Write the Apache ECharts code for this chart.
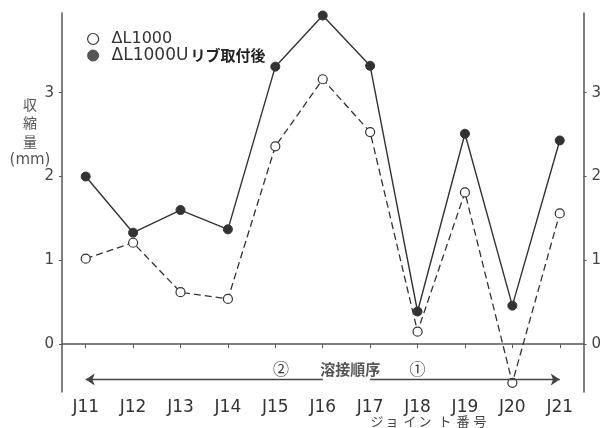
<!DOCTYPE html>
<html>
<head>
<meta charset="utf-8">
<script src="https://cdn.jsdelivr.net/npm/echarts@6/dist/echarts.min.js"></script>
<style>
  html, body { margin: 0; padding: 0; background: #fff; }
  #chart { width: 604px; height: 428px; }
</style>
</head>
<body>
<div id="chart"></div>
<script>
// Joint numbers along the girder
const categories = ['J11', 'J12', 'J13', 'J14', 'J15', 'J16', 'J17', 'J18', 'J19', 'J20', 'J21'];
// Shrinkage (mm) per joint
const dl1000 = [1.02, 1.21, 0.62, 0.54, 2.36, 3.16, 2.53, 0.15, 1.81, -0.46, 1.56];
const dl1000Rib = [2.00, 1.33, 1.60, 1.37, 3.31, 3.92, 3.32, 0.39, 2.51, 0.46, 2.43];
const seriesNames = ['ΔL1000', 'ΔL1000Uリブ取付後'];
const yTicks = [0, 1, 2, 3];
// Welding order arrow level (mm) and the joints it spans
const arrowLevel = -0.42;
const arrowLeft = ['J16', 'J11'];
const arrowRight = ['J17', 'J21'];

const ink = '#333';
const axisColor = '#555';
const latin = 'DejaVu Sans';
const cjk = 'Noto Sans CJK JP';

const yAxisBase = {
  type: 'value',
  min: -0.57,
  max: 3.95,
  splitLine: { show: false },
  axisLine: { show: true, lineStyle: { color: axisColor, width: 1.5 } },
  axisTick: { show: true, length: 3, customValues: yTicks, lineStyle: { color: axisColor } },
  axisLabel: {
    show: true, customValues: yTicks, margin: 8,
    color: '#444', fontSize: 15, fontFamily: latin
  }
};

// Legend text: Latin part in a sans face, Japanese part in a bold CJK face
const legendFormatter = (name) => {
  const m = name.match(/^([\x00-\x7F\u0394]+)(.*)$/);
  if (m && m[2]) return '{b|' + m[1] + '}{j|' + m[2] + '}';
  return '{a|' + name + '}';
};

const chart = echarts.init(document.getElementById('chart'), null, { renderer: 'canvas' });

const option = {
  backgroundColor: '#ffffff',
  animation: false,
  grid: { left: 62, right: 17, top: 13, bottom: 36, containLabel: false },
  legend: {
    orient: 'vertical',
    left: 82,
    top: 26,
    itemWidth: 11,
    itemHeight: 11,
    itemGap: 0,
    formatter: legendFormatter,
    textStyle: {
      color: ink, fontSize: 16, fontFamily: latin,
      rich: {
        a: { color: ink, fontSize: 16, fontFamily: latin, lineHeight: 18, padding: [0, 0, 0, 8] },
        b: { color: ink, fontSize: 17, fontFamily: latin, lineHeight: 18, padding: [0, 2, 0, 8] },
        j: { color: '#222', fontSize: 15, fontFamily: cjk, fontWeight: 'bold', lineHeight: 18 }
      }
    },
    data: [
      { name: seriesNames[0], icon: 'circle', itemStyle: { color: '#fff', borderColor: ink, borderWidth: 1.2 } },
      { name: seriesNames[1], icon: 'circle', itemStyle: { color: '#555', borderColor: '#555', borderWidth: 1 } }
    ]
  },
  xAxis: {
    type: 'category',
    data: categories,
    boundaryGap: true,
    axisLine: { show: true, lineStyle: { color: axisColor, width: 1.5 } },
    axisTick: { show: true, alignWithLabel: true, length: 4, lineStyle: { color: axisColor } },
    axisLabel: { color: ink, fontSize: 17, fontFamily: latin, margin: 7 },
    splitLine: { show: false }
  },
  yAxis: [
    Object.assign({ position: 'left' }, yAxisBase),
    Object.assign({ position: 'right' }, yAxisBase)
  ],
  series: [
    {
      name: seriesNames[0],
      type: 'line',
      data: dl1000,
      symbol: 'circle',
      symbolSize: 9,
      z: 3,
      itemStyle: { color: '#fff', borderColor: ink, borderWidth: 1.2 },
      lineStyle: { color: ink, width: 1.3, type: [7, 4] }
    },
    {
      name: seriesNames[1],
      type: 'line',
      data: dl1000Rib,
      symbol: 'circle',
      symbolSize: 9,
      z: 4,
      itemStyle: { color: ink, borderColor: ink, borderWidth: 1 },
      lineStyle: { color: ink, width: 1.4, type: 'solid' },
      markLine: {
        silent: true,
        symbol: ['none', 'arrow'],
        symbolSize: 9,
        animation: false,
        label: { show: false },
        lineStyle: { color: '#444', width: 1.3, type: 'solid' },
        data: [
          [{ coord: [arrowLeft[0], arrowLevel] }, { coord: [arrowLeft[1], arrowLevel] }],
          [{ coord: [arrowRight[0], arrowLevel] }, { coord: [arrowRight[1], arrowLevel] }]
        ]
      }
    }
  ]
};

chart.setOption(option);

// Annotation texts placed through the axes' own scales
const toPx = (cat, y) => chart.convertToPixel({ xAxisIndex: 0, yAxisIndex: 0 }, [cat, y]);
const between = (catA, catB, t, y) => {
  const a = toPx(catA, y), b = toPx(catB, y);
  return [a[0] + (b[0] - a[0]) * t, a[1]];
};
const orderLabelLevel = -0.30;
const midOrder = between('J16', 'J17', 0.58, orderLabelLevel);
const second = between('J15', 'J16', 0.12, orderLabelLevel);
const first = toPx('J18', orderLabelLevel);

const txt = (x, y, text, style) => ({
  type: 'text', x: x, y: y, silent: true,
  style: Object.assign({ text: text, align: 'center', verticalAlign: 'middle', fill: '#444' }, style)
});

// x-axis title, set with open spacing between the kana
const xTitle = 'ジョイント番号';
const xTitleX = [377, 392, 410, 425, 445, 463, 480];
const xTitleEls = xTitle.split('').map((ch, i) =>
  txt(xTitleX[i], 421, ch, { fontSize: 13, fontFamily: cjk, fill: '#444' }));

chart.setOption({
  graphic: [
    txt(midOrder[0], midOrder[1], '溶接順序', { fontSize: 15, fontFamily: cjk, fontWeight: 'bold', fill: '#555' }),
    txt(second[0], second[1], '②', { fontSize: 16, fontFamily: cjk, fill: '#333' }),
    txt(first[0], first[1], '①', { fontSize: 16, fontFamily: cjk, fill: '#333' }),
    // vertical y-axis title
    txt(30, 105, '収', { fontSize: 14, fontFamily: cjk, fill: '#555' }),
    txt(30, 123, '縮', { fontSize: 14, fontFamily: cjk, fill: '#555' }),
    txt(30, 142, '量', { fontSize: 14, fontFamily: cjk, fill: '#555' }),
    txt(30, 160, '(mm)', { fontSize: 15, fontFamily: latin, fill: '#555' })
  ].concat(xTitleEls)
});
</script>
</body>
</html>
